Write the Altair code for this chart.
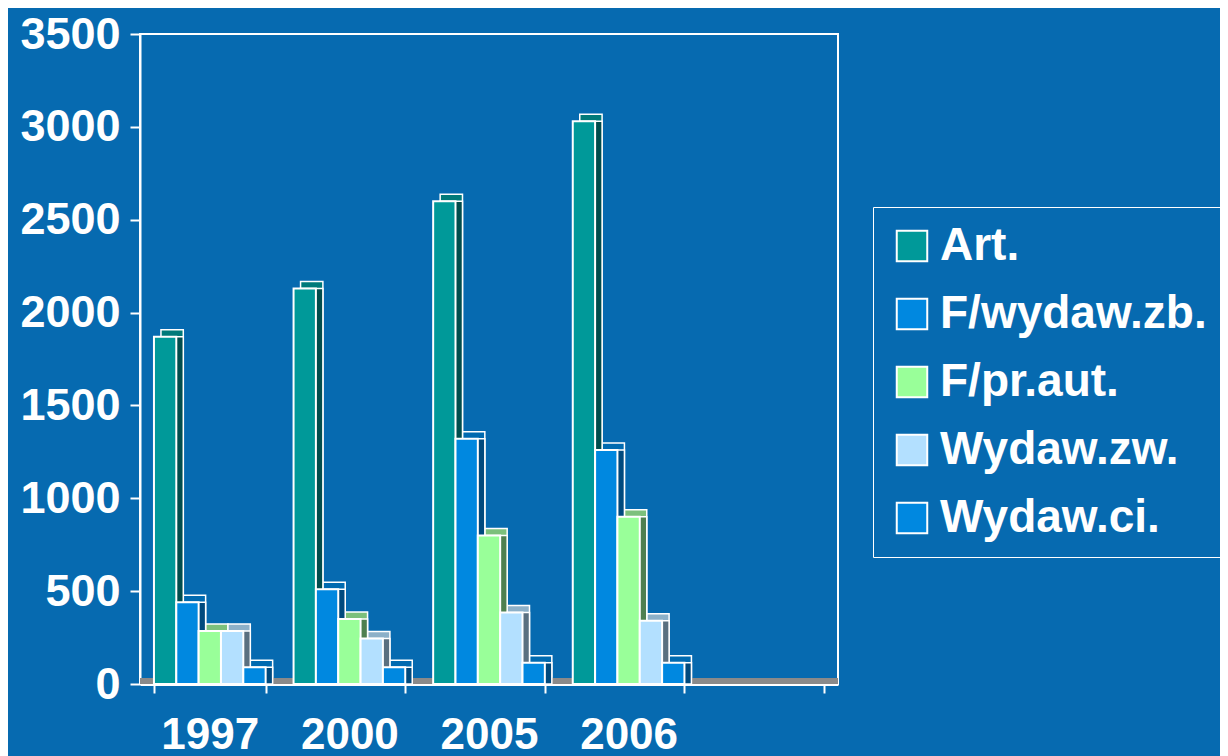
import altair as alt
import pandas as pd

years = ["1997", "2000", "2005", "2006"]
series = ["Art.", "F/wydaw.zb.", "F/pr.aut.", "Wydaw.zw.", "Wydaw.ci."]
art = [1870, 2130, 2600, 3030]
wydaw_zb = [440, 510, 1320, 1260]
pr_aut = [285, 350, 800, 900]
wydaw_zw = [285, 245, 385, 340]
wydaw_ci = [90, 90, 115, 115]
y_ticks = [0, 500, 1000, 1500, 2000, 2500, 3000, 3500]

front_colors = ["#009999", "#0088E0", "#99FF99", "#B3E0FF", "#0088E0"]
top_colors = ["#007A7A", "#006AB0", "#7CC07C", "#8CB0C8", "#006AB0"]
side_colors = ["#004D4D", "#004A7E", "#4F8050", "#5A7080", "#004A7E"]

rows = []
for s, vals in zip(series, [art, wydaw_zb, pr_aut, wydaw_zw, wydaw_ci]):
    for y, v in zip(years, vals):
        rows.append({"year": y, "series": s, "value": v})
df = pd.DataFrame(rows)

x_domain = years + [" "]
FONT = "Liberation Sans"
W, H = 698, 650
PAD_IN, PAD_OUT = 0.2, 0.1
BAND = W / (len(x_domain) - PAD_IN + 2 * PAD_OUT) * (1 - PAD_IN)
DEPTH = 7

x_enc = alt.X(
    "year:N",
    scale=alt.Scale(domain=x_domain, paddingInner=PAD_IN, paddingOuter=PAD_OUT),
    axis=alt.Axis(
        title=None, labelAngle=0, labelFontSize=44, labelFontWeight="bold",
        labelColor="white", labelFont=FONT, labelPadding=20, tickBand="extent",
        tickColor="white", tickWidth=2, tickSize=9, domainColor="white",
        domainWidth=3, grid=False,
    ),
)


def xo(shift):
    return alt.XOffset(
        "series:N",
        scale=alt.Scale(domain=series, paddingInner=0, paddingOuter=0,
                        range=[shift, shift + BAND]),
    )


y_enc = alt.Y(
    "value:Q",
    scale=alt.Scale(domain=[0, 3500], nice=False),
    axis=alt.Axis(
        title=None, values=y_ticks, format="d", labelFontSize=45,
        labelFontWeight="bold", labelColor="white", labelFont=FONT,
        labelPadding=10, tickColor="white", tickWidth=2, tickSize=10,
        domainColor="white", domainWidth=2, gridColor="white", gridWidth=2,
    ),
)

base = alt.Chart(df)

floor = base.mark_rule(color="#8A8A8A", strokeWidth=5, yOffset=-3).encode(y=alt.datum(0))

top_layer = base.mark_bar(
    yOffset=-DEPTH, y2Offset=-DEPTH, stroke="white", strokeWidth=1.5
).encode(
    x=x_enc, xOffset=xo(DEPTH), y=y_enc,
    color=alt.Color("series:N", scale=alt.Scale(domain=series, range=top_colors), legend=None),
)
side_layer = base.mark_bar(stroke="white", strokeWidth=1.5).encode(
    x=x_enc, xOffset=xo(DEPTH), y=y_enc,
    color=alt.Color("series:N", scale=alt.Scale(domain=series, range=side_colors), legend=None),
)
front = base.mark_bar(stroke="white", strokeWidth=2).encode(
    x=x_enc, xOffset=xo(0), y=y_enc,
    color=alt.Color(
        "series:N",
        scale=alt.Scale(domain=series, range=front_colors),
        legend=alt.Legend(
            title=None, orient="none", legendX=733, legendY=173,
            strokeColor="white", padding=16, symbolType="square",
            symbolSize=930, symbolStrokeColor="white", symbolStrokeWidth=2,
            labelFontSize=46, labelFontWeight="bold", labelColor="white",
            labelFont=FONT, rowPadding=22, labelOffset=5, labelLimit=400,
        ),
    ),
)

chart = (
    alt.layer(floor, top_layer, side_layer, front)
    .resolve_scale(color="independent", xOffset="independent")
    .properties(
        width=W, height=H,
        background="#066AB0",
        padding={"left": 132, "top": 26, "right": 382, "bottom": 76},
        autosize=alt.AutoSizeParams(type="none"),
    )
    .configure_view(stroke="white", strokeWidth=2)
)

chart.save("out.html", embed_options={"renderer": "svg", "actions": False})
